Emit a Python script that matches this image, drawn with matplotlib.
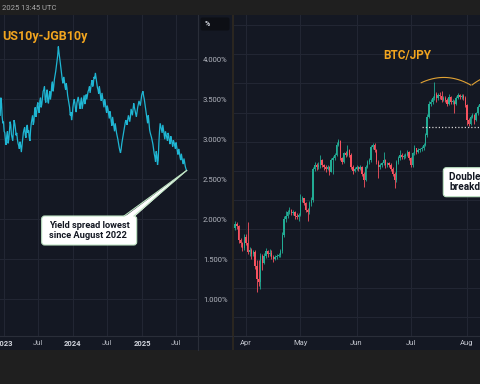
import numpy as np
import pandas as pd
import matplotlib
matplotlib.use("Agg")
import matplotlib.pyplot as plt
import matplotlib.dates as mdates
from matplotlib.patches import Rectangle, FancyBboxPatch, Polygon

plt.rcParams['font.family'] = ['Roboto', 'DejaVu Sans']

# ---------------- data ----------------
spread_start = "2022-12-12"   # observations every 3.5 days
spread = [3.30, 3.52, 3.45, 3.28, 3.20, 3.22, 3.10, 3.08, 2.98, 2.93,
          3.05, 3.10, 2.95, 3.00, 3.10, 3.22, 3.18, 3.06, 3.02, 2.98,
          3.12, 3.24, 3.20, 3.14, 3.05, 3.08, 3.00, 2.95, 2.92, 2.88,
          2.97, 2.92, 2.84, 2.92, 3.00, 3.08, 3.12, 3.15, 3.05, 3.02,
          3.15, 3.18, 3.08, 3.11, 3.02, 2.98, 3.12, 3.20, 3.25, 3.30,
          3.18, 3.22, 3.35, 3.40, 3.28, 3.32, 3.42, 3.46, 3.36, 3.33,
          3.48, 3.52, 3.40, 3.44, 3.52, 3.60, 3.62, 3.66, 3.50, 3.46,
          3.58, 3.62, 3.48, 3.45, 3.55, 3.60, 3.50, 3.56, 3.68, 3.72,
          3.60, 3.66, 3.75, 3.80, 3.85, 3.92, 3.98, 4.05, 4.16, 4.08,
          4.02, 3.95, 3.88, 3.82, 3.74, 3.70, 3.78, 3.74, 3.66, 3.62,
          3.70, 3.64, 3.55, 3.50, 3.45, 3.40, 3.30, 3.34, 3.24, 3.30,
          3.40, 3.46, 3.50, 3.45, 3.38, 3.34, 3.45, 3.49, 3.53, 3.48,
          3.42, 3.38, 3.48, 3.52, 3.38, 3.44, 3.50, 3.55, 3.44, 3.48,
          3.56, 3.50, 3.55, 3.60, 3.62, 3.66, 3.58, 3.64, 3.70, 3.74,
          3.66, 3.70, 3.78, 3.76, 3.83, 3.77, 3.70, 3.65, 3.62, 3.57,
          3.66, 3.60, 3.52, 3.48, 3.58, 3.52, 3.45, 3.40, 3.50, 3.46,
          3.38, 3.33, 3.42, 3.38, 3.32, 3.26, 3.35, 3.30, 3.22, 3.17,
          3.28, 3.22, 3.15, 3.10, 3.20, 3.14, 3.08, 3.04, 3.00, 2.95,
          2.90, 2.86, 2.83, 2.88, 2.95, 3.00, 3.05, 3.10, 3.15, 3.20,
          3.24, 3.22, 3.18, 3.25, 3.30, 3.26, 3.22, 3.28, 3.38, 3.34,
          3.30, 3.38, 3.45, 3.40, 3.36, 3.32, 3.28, 3.34, 3.40, 3.44,
          3.48, 3.45, 3.42, 3.48, 3.55, 3.58, 3.60, 3.54, 3.50, 3.44,
          3.38, 3.32, 3.25, 3.20, 3.30, 3.22, 3.12, 3.08, 3.05, 3.02,
          2.98, 2.94, 2.88, 2.82, 2.78, 2.72, 2.85, 2.80, 2.68, 2.74,
          2.95, 3.10, 3.20, 3.16, 3.12, 3.08, 3.18, 3.12, 3.05, 3.00,
          3.10, 3.06, 3.02, 2.98, 3.08, 3.04, 2.98, 2.94, 3.04, 3.00,
          2.95, 2.91, 2.99, 2.96, 2.92, 2.88, 2.96, 2.91, 2.85, 2.81,
          2.88, 2.84, 2.78, 2.74, 2.82, 2.77, 2.72, 2.69, 2.76, 2.71,
          2.66, 2.63, 2.61]
left_ticks = ["2023-01-01", "2023-07-01", "2024-01-01", "2024-07-01", "2025-01-01", "2025-07-01"]
left_tick_labels = ["2023", "Jul", "2024", "Jul", "2025", "Jul"]
left_yticks = [1.0, 1.5, 2.0, 2.5, 3.0, 3.5, 4.0]

# BTC/JPY daily candles (millions of JPY), 2025-03-26 .. 2025-08-08
btc_start = "2025-03-26"
btc_first_open = 13.05
btc_close = [13.20, 13.10, 12.63, 12.52, 12.35, 12.75,
             12.52, 12.23, 12.29, 12.17, 12.23, 11.75, 11.30, 11.20, 12.10, 11.85,
             12.10, 12.25, 12.15, 12.20, 12.05, 12.00, 12.05, 12.10, 12.12, 12.25,
             12.80, 13.35, 13.45, 13.60, 13.66, 13.55, 13.60, 13.45, 13.42, 13.50,
             14.00, 14.06, 13.90, 13.66, 13.60, 13.90, 14.00, 15.08, 15.20, 15.15,
             15.20, 15.37, 15.20, 15.15, 15.08, 15.15, 14.98, 15.37, 15.43, 15.55,
             15.90, 16.02, 15.43, 15.32, 15.60, 15.54, 15.72, 15.54, 15.14, 15.00, 15.08,
             15.14, 15.08, 15.14, 14.90, 14.70, 15.14, 15.30, 15.37, 15.83, 15.90,
             15.72, 15.32, 15.14, 15.20, 15.26, 15.37, 15.20, 15.26, 15.20, 15.08,
             14.90, 14.70, 15.30, 15.43, 15.54, 15.49, 15.50, 15.54, 15.66, 15.43,
             15.20, 15.60, 15.77, 15.66, 15.72, 15.74, 15.77, 15.90, 16.23, 16.85,
             17.30, 17.37, 17.50, 17.65, 17.50, 17.60, 17.55, 17.43, 17.50, 17.43,
             17.30, 17.54, 17.37, 17.37, 17.30, 17.49, 17.60, 17.54, 17.56, 17.49, 17.25,
             16.74, 16.62, 16.85, 16.90, 16.74, 16.97, 17.20, 17.30]
btc_high = [13.28, 13.25, 13.15, 12.70, 12.58, 12.85,
            12.85, 13.26, 12.40, 12.35, 12.30, 12.28, 11.95, 11.95, 12.20, 12.15,
            12.18, 12.35, 12.30, 12.32, 12.28, 12.12, 12.12, 12.15, 12.20, 12.32,
            12.90, 13.45, 13.62, 13.68, 13.75, 13.70, 13.66, 13.64, 13.55, 13.56,
            14.20, 14.15, 14.08, 13.95, 13.72, 13.98, 14.10, 15.15, 15.30, 15.28,
            15.30, 15.55, 15.42, 15.25, 15.20, 15.22, 15.18, 15.45, 15.50, 15.62,
            16.00, 16.10, 16.05, 15.48, 15.66, 15.68, 15.90, 15.76, 15.62, 15.20, 15.14,
            15.20, 15.18, 15.22, 15.18, 14.95, 15.20, 15.36, 15.45, 15.90, 15.97,
            15.95, 15.76, 15.38, 15.28, 15.32, 15.66, 15.42, 15.32, 15.30, 15.26,
            15.12, 14.95, 15.36, 15.50, 15.72, 15.60, 15.58, 15.60, 15.72, 15.70,
            15.48, 15.66, 15.90, 15.80, 15.78, 15.80, 15.84, 15.96, 16.30, 16.95,
            17.40, 17.45, 17.58, 18.05, 17.72, 17.68, 17.70, 17.75, 17.56, 17.55,
            17.50, 17.62, 17.58, 17.46, 17.42, 17.55, 17.66, 17.65, 17.63, 17.62, 17.55,
            17.28, 16.80, 16.90, 16.98, 16.94, 17.02, 17.26, 17.38]
btc_low = [12.98, 13.02, 12.55, 12.40, 12.25, 12.30,
           12.45, 12.15, 12.10, 11.98, 12.10, 11.65, 10.86, 11.05, 10.95, 11.60,
           11.80, 12.02, 12.05, 12.08, 11.98, 11.90, 11.95, 12.00, 12.04, 12.05,
           12.20, 12.75, 13.25, 13.38, 13.52, 13.50, 13.48, 13.35, 13.36, 13.30,
           13.45, 13.95, 13.85, 13.60, 13.30, 13.52, 13.80, 13.95, 15.00, 15.05,
           15.08, 15.10, 15.12, 15.05, 14.98, 15.02, 14.85, 14.95, 14.90, 15.38,
           15.50, 15.85, 15.38, 15.25, 15.28, 15.48, 15.50, 15.48, 15.08, 14.88, 14.95,
           15.02, 15.00, 15.04, 14.84, 14.45, 14.66, 15.10, 15.25, 15.30, 15.75,
           15.65, 15.25, 14.75, 15.08, 15.15, 15.22, 15.10, 15.12, 15.14, 15.00,
           14.82, 14.40, 14.62, 15.24, 15.38, 15.42, 15.40, 15.46, 15.50, 15.38,
           15.12, 15.15, 15.55, 15.58, 15.60, 15.66, 15.68, 15.72, 15.86, 16.18,
           16.80, 17.22, 17.30, 17.42, 17.35, 17.44, 17.48, 17.36, 17.38, 17.36,
           17.22, 17.26, 17.30, 17.28, 16.97, 17.26, 17.45, 17.46, 17.48, 17.42, 17.18,
           16.57, 16.55, 16.58, 16.80, 16.60, 16.70, 16.92, 17.15]
neckline = 16.51
right_ticks = ["2025-04-01", "2025-05-01", "2025-06-01", "2025-07-01", "2025-08-01"]
right_tick_labels = ["Apr", "May", "Jun", "Jul", "Aug"]

# ---------------- style ----------------
W, H = 480, 384
BG = '#1f1f1f'
PANEL = '#141823'
GRID = '#222633'
SEP = '#2a2e39'
TXT = '#b2b5be'
ORANGE = '#f2a51f'
CYAN = '#1fb6d3'
UP, DOWN = '#22ab94', '#f7525f'

fig = plt.figure(figsize=(W / 100, H / 100), dpi=100)
fig.patch.set_facecolor(BG)


def fr(x0, y0, x1, y1):
    return [x0 / W, 1 - y1 / H, (x1 - x0) / W, (y1 - y0) / H]


bg = fig.add_axes([0, 0, 1, 1], zorder=0)
bg.set_xlim(0, W); bg.set_ylim(H, 0); bg.axis('off')
bg.add_patch(Rectangle((0, 15), 232, 335, color=PANEL, lw=0))
bg.add_patch(Rectangle((234, 15), 246, 335, color=PANEL, lw=0))

# ---------------- left chart ----------------
ax1 = fig.add_axes(fr(0, 15, 197, 336), zorder=1)
ax1.set_facecolor('none')
sd = pd.date_range(spread_start, periods=len(spread), freq='84h')
ax1.plot(sd, spread, color=CYAN, lw=0.9, solid_joinstyle='miter')
ax1.set_xlim(pd.Timestamp("2022-12-11"), pd.Timestamp("2025-10-19"))
ax1.set_ylim(0.541, 4.554)
ax1.set_xticks(pd.to_datetime(left_ticks))
ax1.set_xticklabels(left_tick_labels)
for lab in ax1.get_xticklabels():
    if lab.get_text().isdigit():
        lab.set_fontweight('bold'); lab.set_color('#d1d4dc')
    else:
        lab.set_color(TXT)
ax1.yaxis.tick_right()
ax1.set_yticks(left_yticks)
ax1.set_yticklabels([f"{v:.3f}%" for v in left_yticks])
ax1.tick_params(axis='x', length=0, pad=3.2, labelsize=5.5)
ax1.tick_params(axis='y', length=0, pad=4.3, labelsize=5.5, labelcolor=TXT)
ax1.grid(True, color=GRID, lw=0.8)
for s in ax1.spines.values():
    s.set_visible(False)

# ---------------- right chart ----------------
ax2 = fig.add_axes(fr(234, 15, 480, 336), zorder=1)
ax2.set_facecolor('none')
bd = mdates.date2num(pd.date_range(btc_start, periods=len(btc_close), freq='D'))
opens = np.array([btc_first_open] + btc_close[:-1])
closes = np.array(btc_close)
col = np.where(closes >= opens, UP, DOWN)
ax2.vlines(bd, btc_low, btc_high, colors=col, lw=0.6, zorder=3)
bottoms = np.minimum(opens, closes)
heights = np.maximum(np.abs(closes - opens), 0.03)
ax2.bar(bd, heights, bottom=bottoms, width=0.72, color=col, lw=0, zorder=4)
apr1 = mdates.date2num(pd.Timestamp("2025-04-01"))
ax2.set_xlim(apr1 - 12 / 1.8115, apr1 + 234 / 1.8115)
ax2.set_ylim(9.35, 20.34)
ax2.set_yticks(np.arange(10, 21, 1))
ax2.set_yticklabels([])
ax2.set_xticks(mdates.date2num(pd.to_datetime(right_ticks)))
ax2.set_xticklabels(right_tick_labels)
ax2.tick_params(axis='x', length=0, pad=3.2, labelsize=5.5, labelcolor='#c0c3cc')
ax2.tick_params(axis='y', length=0)
ax2.grid(True, color=GRID, lw=0.8)
for s in ax2.spines.values():
    s.set_visible(False)

# neckline and arcs (pattern annotations)
neck_x0 = mdates.date2num(pd.Timestamp("2025-07-07"))
ax2.plot([neck_x0, apr1 + 140], [neckline, neckline], color='#d5d5d5', lw=0.9,
         ls=(0, (1, 1.6)), zorder=5)
t = np.linspace(0, 1, 40)
def qcurve(p0, p1, p2):
    return ((1 - t) ** 2 * p0[0] + 2 * (1 - t) * t * p1[0] + t ** 2 * p2[0],
            (1 - t) ** 2 * p0[1] + 2 * (1 - t) * t * p1[1] + t ** 2 * p2[1])
arc1 = qcurve((apr1 + 96.7, 18.02), (apr1 + 110.5, 18.42), (apr1 + 124.1, 17.94))
arc2 = qcurve((apr1 + 124.9, 17.95), (apr1 + 132, 18.30), (apr1 + 139, 18.25))
ax2.plot(*arc1, color='#e0a234', lw=0.8, zorder=5)
ax2.plot(*arc2, color='#e0a234', lw=0.8, zorder=5)

# ---------------- overlay ----------------
ov = fig.add_axes([0, 0, 1, 1], zorder=5)
ov.set_xlim(0, W); ov.set_ylim(H, 0); ov.axis('off')
ov.patch.set_alpha(0)

ov.plot([0, 232], [336, 336], color=SEP, lw=0.8)
ov.plot([234, 480], [336, 336], color=SEP, lw=0.8)
ov.plot([197.5, 197.5], [15, 350], color=SEP, lw=0.8)
ov.add_patch(Rectangle((232, 15), 2.2, 335, color='#2a2620', lw=0))
ov.add_patch(Rectangle((0, 350), W, H - 350, color=BG, lw=0))
ov.add_patch(Rectangle((0, 0), W, 15, color=BG, lw=0))

ov.text(2.5, 8, "2025 13:45 UTC", fontsize=5.5, color='#a9a9a9', va='center', ha='left')

ov.add_patch(FancyBboxPatch((200.5, 17.5), 29, 13, boxstyle="round,pad=0,rounding_size=2",
                            fc='#0d0f15', ec='none'))
ov.text(205, 24.2, "%", fontsize=5, color='#d1d4dc', fontweight='bold', va='center', ha='left')

ov.text(2.5, 36.5, "US10y-JGB10y", fontsize=9, color=ORANGE, fontweight='bold',
        va='center', ha='left')
ov.text(407, 56, "BTC/JPY", fontsize=8.5, color=ORANGE, fontweight='bold',
        va='center', ha='center')

EDGE = '#bfe5c4'
ov.add_patch(FancyBboxPatch((41.7, 216), 95, 29, boxstyle="round,pad=0,rounding_size=3",
                            fc='white', ec=EDGE, lw=0.8))
tip = ov.transData.inverted().transform(
    ax1.transData.transform((mdates.date2num(sd[-1]), spread[-1])))
b1, b2 = (124.0, 216.0), (134.0, 216.0)
ov.add_patch(Polygon([(b1[0], b1[1] + 1.2), (b2[0], b2[1] + 1.2), tuple(tip)],
                     closed=True, fc='white', ec='none'))
ov.plot([b1[0], tip[0]], [b1[1], tip[1]], color=EDGE, lw=0.8)
ov.plot([b2[0], tip[0]], [b2[1], tip[1]], color=EDGE, lw=0.8)
ov.text(49, 225.5, "Yield spread lowest", fontsize=6.7, fontweight='bold', color='#131722',
        va='center', ha='left')
ov.text(49, 235.5, "since August 2022", fontsize=6.7, fontweight='bold', color='#131722',
        va='center', ha='left')

ov.add_patch(FancyBboxPatch((443.3, 167.7), 60, 29, boxstyle="round,pad=0,rounding_size=3",
                            fc='white', ec=EDGE, lw=0.8, clip_on=False))
ov.text(449, 177.5, "Double top", fontsize=7.2, fontweight='bold', color='#131722',
        va='center', ha='left')
ov.text(449, 187, "breakdown", fontsize=7.2, fontweight='bold', color='#131722',
        va='center', ha='left')

fig.savefig("out.png", dpi=100, facecolor=BG)
